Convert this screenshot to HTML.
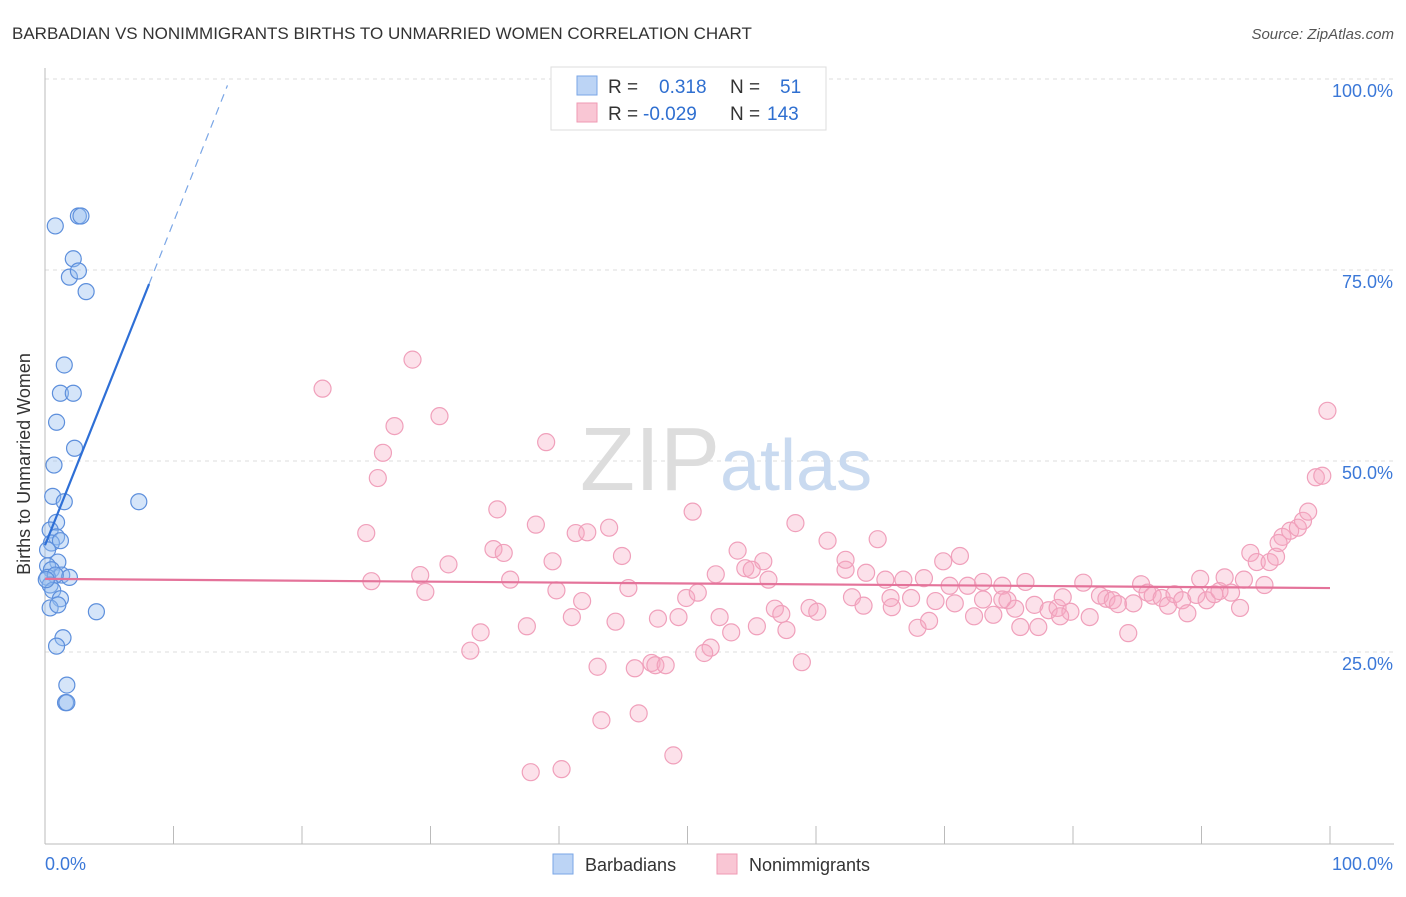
<!DOCTYPE html>
<html><head><meta charset="utf-8"><style>
body{margin:0;background:#fff;font-family:"Liberation Sans",sans-serif;}
svg text{font-family:"Liberation Sans",sans-serif;}
</style></head><body>
<svg id="chart" width="1406" height="892">
<text x="12" y="39" font-size="17" fill="#333">BARBADIAN VS NONIMMIGRANTS BIRTHS TO UNMARRIED WOMEN CORRELATION CHART</text>
<text x="1394" y="39" font-size="15" fill="#555" font-style="italic" text-anchor="end">Source: ZipAtlas.com</text>
<g id="grid"></g>
<text x="720" y="490" font-size="90" fill="#ddd" text-anchor="end" font-family="Liberation Serif">ZIP</text>
<text x="720" y="490" font-size="72" fill="#c9daf0">atlas</text>
<g id="axes"></g>
<g id="pts"></g>
<g id="trend"></g>
<text x="24" y="458" font-size="18" fill="#333" text-anchor="middle" transform="rotate(-90 30 458)">Births to Unmarried Women</text>
<g>
<rect x="551" y="67" width="275" height="63" fill="#fff" stroke="#ddd"/>
<rect x="577" y="76" width="20" height="19" fill="#bcd4f5" stroke="#7aa6e6"/>
<rect x="577" y="103" width="20" height="19" fill="#f9c6d4" stroke="#ef9ab3"/>
<text x="608" y="93" font-size="19" fill="#333">R = <tspan fill="#2f6fd0" x="659">0.318</tspan><tspan fill="#333" x="730">N =</tspan><tspan fill="#2f6fd0" x="780">51</tspan></text>
<text x="608" y="120" font-size="19" fill="#333">R = <tspan fill="#2f6fd0" x="643">-0.029</tspan><tspan fill="#333" x="730">N =</tspan><tspan fill="#2f6fd0" x="767">143</tspan></text>
</g>
<g>
<rect x="553" y="854" width="20" height="20" fill="#bcd4f5" stroke="#7aa6e6"/>
<text x="585" y="871" font-size="18" fill="#333">Barbadians</text>
<rect x="717" y="854" width="20" height="20" fill="#f9c6d4" stroke="#ef9ab3"/>
<text x="749" y="871" font-size="18" fill="#333">Nonimmigrants</text>
</g>
</svg>
<script>
const yTicks=[25,50,75,100];
const yTickLabels=["25.0%","50.0%","75.0%","100.0%"];
const xTickLabels=["0.0%","100.0%"];
const blueX=[0.8,2.6,2.8,2.2,1.9,2.6,3.2,1.5,1.2,2.2,0.9,2.3,0.7,0.6,1.5,7.3,0.9,0.4,0.9,0.5,1.2,0.2,1.0,0.2,0.5,1.3,1.9,0.2,0.8,0.4,0.6,1.2,0.4,1.0,4.0,1.4,0.9,1.7,1.6,1.7,0.1];
const blueY=[80.9,82.2,82.2,76.6,74.2,75.0,72.3,62.7,59.0,59.0,55.2,51.8,49.6,45.5,44.8,44.8,42.1,41.1,40.2,39.4,39.7,38.5,36.9,36.4,35.9,35.2,34.9,34.9,35.2,33.9,33.2,32.1,30.9,31.3,30.4,27.0,25.9,20.8,18.5,18.5,34.6];
const pinkX=[21.6,28.6,30.7,27.2,26.3,25.9,39.0,25.0,35.2,38.2,41.3,42.2,43.9,50.4,58.4,60.9,64.8,34.9,35.7,39.5,44.9,31.4,25.4,29.2,29.6,36.2,39.8,41.8,45.4,41.0,44.4,47.7,49.3,49.9,50.8,52.2,53.9,54.5,55.9,55.0,56.3,56.8,57.3,59.5,60.1,57.7,52.5,53.4,55.4,51.8,51.3,47.2,45.9,47.5,48.3,43.0,43.3,46.2,48.9,37.8,40.2,33.1,33.9,37.5,58.9,62.3,62.8,63.7,63.9,65.4,65.9,66.8,67.4,65.8,67.9,68.8,68.4,69.3,69.9,70.4,71.2,70.8,72.3,71.8,73.0,73.8,74.5,74.9,75.5,75.9,76.3,77.0,77.3,78.1,78.8,79.2,79.8,80.8,81.3,82.1,82.6,83.1,83.5,84.3,84.7,85.3,85.8,86.2,86.9,87.4,87.9,88.5,88.9,89.6,89.9,90.4,91.0,91.4,91.8,92.3,93.0,93.3,93.8,94.3,94.9,95.3,95.8,96.3,96.9,97.5,97.9,98.3,98.9,99.4,99.8,96.0,79.0,62.3,74.5,73.0];
const pinkY=[59.6,63.4,56.0,54.7,51.2,47.9,52.6,40.7,43.8,41.8,40.7,40.8,41.4,43.5,42.0,39.7,39.9,38.6,38.1,37.0,37.7,36.6,34.4,35.2,33.0,34.6,33.2,31.8,33.5,29.7,29.1,29.5,29.7,32.2,32.9,35.3,38.4,36.1,37.0,35.9,34.6,30.8,30.1,30.9,30.4,28.0,29.7,27.7,28.5,25.7,25.0,23.7,23.0,23.4,23.4,23.2,16.2,17.1,11.6,9.4,9.8,25.3,27.7,28.5,23.8,35.9,32.3,31.2,35.5,34.6,31.0,34.6,32.2,32.2,28.3,29.2,34.8,31.8,37.0,33.8,37.7,31.5,29.8,33.8,34.3,30.0,33.8,31.9,30.8,28.4,34.3,31.3,28.4,30.6,30.9,32.3,30.4,34.2,29.7,32.5,32.1,31.9,31.4,27.6,31.5,34.0,32.9,32.5,32.2,31.2,32.7,31.9,30.2,32.6,34.7,31.9,32.7,33.1,34.9,32.9,30.9,34.6,38.1,36.9,33.9,36.9,37.6,40.2,41.0,41.4,42.3,43.5,48.0,48.2,56.7,39.4,29.8,37.2,32.0,32.0];
const blueTrend=[[0,39.1],[8.1,73.3]];
const blueDash=[[8.1,73.3],[14.2,99.3]];
const pinkTrend=[[0,34.7],[100,33.5]];
const X=v=>45+v*12.85, Y=v=>844-v*7.64;
const NS="http://www.w3.org/2000/svg";
function mk(tag,attrs,parent){const e=document.createElementNS(NS,tag);for(const k in attrs)e.setAttribute(k,attrs[k]);document.getElementById(parent).appendChild(e);return e;}
yTicks.forEach((t,i)=>{
 const l=mk('line',{x1:45,x2:1394,y1:Y(t)-1,y2:Y(t)-1,stroke:'#ddd','stroke-dasharray':'4,4'},'grid');
 
 
 const tx=mk('text',{x:1393,y:Y(t)+17,'font-size':18,fill:'#3b78d8','text-anchor':'end'},'axes');
 tx.textContent=yTickLabels[i];
 
 
});
const ax=mk('line',{x1:45,x2:45,y1:68,y2:844,stroke:'#bbb'},'axes');


const bx=mk('line',{x1:45,x2:1394,y1:844,y2:844,stroke:'#bbb'},'axes');


for(let i=0;i<=10;i++){const t=mk('line',{x1:X(i*10),x2:X(i*10),y1:826,y2:844,stroke:'#bbb'},'axes');
 
 }
[[0,'start',45],[100,'end',1393]].forEach((a,i)=>{const t=mk('text',{x:a[2],y:870,'font-size':18,fill:'#3b78d8','text-anchor':a[1]},'axes');t.textContent=xTickLabels[i];
 
 });
pinkX.forEach((v,i)=>{const c=mk('circle',{cx:X(v),cy:Y(pinkY[i]),r:8.5,fill:'rgba(246,170,195,0.35)',stroke:'#f0a0bb','stroke-width':1.2},'pts');
 
 });
blueX.forEach((v,i)=>{const c=mk('circle',{cx:X(v),cy:Y(blueY[i]),r:8,fill:'rgba(150,190,240,0.4)',stroke:'#5d8fdc','stroke-width':1.2},'pts');
 
 });
const t1=mk('line',{x1:X(blueTrend[0][0]),y1:Y(blueTrend[0][1]),x2:X(blueTrend[1][0]),y2:Y(blueTrend[1][1]),stroke:'#2e6fd6','stroke-width':2.2},'trend');


const t2=mk('line',{x1:X(blueDash[0][0]),y1:Y(blueDash[0][1]),x2:X(blueDash[1][0]),y2:Y(blueDash[1][1]),stroke:'#7aa6e6','stroke-width':1.2,'stroke-dasharray':'8,6'},'trend');


const t3=mk('line',{x1:X(pinkTrend[0][0]),y1:Y(pinkTrend[0][1]),x2:X(pinkTrend[1][0]),y2:Y(pinkTrend[1][1]),stroke:'#e4739a','stroke-width':2.2},'trend');


</script>
</body></html>
